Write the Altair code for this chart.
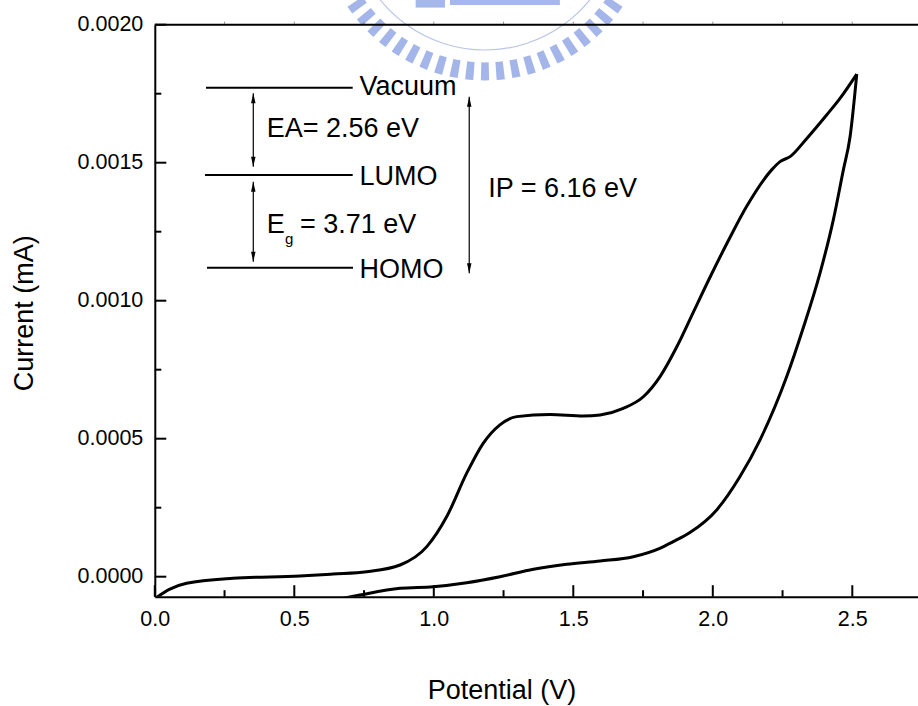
import altair as alt
import numpy as np
import pandas as pd

# ---- cyclic voltammogram (potential in V, current in mA) ----
fwd_v = [0.000, 0.052, 0.114, 0.280, 0.520, 0.639, 0.759, 0.879, 0.975, 1.046,
         1.118, 1.177, 1.237, 1.297, 1.416, 1.536, 1.596, 1.679, 1.751, 1.811,
         1.871, 1.930, 1.990, 2.062, 2.121, 2.211, 2.241, 2.277, 2.337, 2.408,
         2.456, 2.516]
fwd_i = [-0.0000800, -0.0000457, -0.0000239, -0.0000058, 0.0000025, 0.0000098,
         0.0000181, 0.0000424, 0.000109, 0.000217, 0.000375, 0.000483, 0.000550,
         0.000580, 0.000588, 0.000582, 0.000586, 0.000610, 0.000652, 0.000725,
         0.000833, 0.000958, 0.001085, 0.001230, 0.001341, 0.001474, 0.001504,
         0.001522, 0.001588, 0.001673, 0.001733, 0.001821]
# return scan, listed from the low-potential end up to the switching point
rev_v = [0.628, 0.735, 0.879, 0.998, 1.118, 1.237, 1.357, 1.476, 1.596, 1.715,
         1.810, 1.858, 1.918, 2.014, 2.097, 2.169, 2.265, 2.324,
         2.384, 2.432, 2.468, 2.492, 2.516]
rev_i = [-0.0000880, -0.0000663, -0.0000420, -0.0000362, -0.0000217, 0.0,
         0.0000268, 0.0000449, 0.0000569, 0.0000725, 0.000103,
         0.000127, 0.000160, 0.000242, 0.000362, 0.000495, 0.000725,
         0.000901, 0.001099, 0.001293, 0.001474, 0.001594, 0.001821]

# ---- axes ----
X_MAX = 2.7355
Y_MIN, Y_MAX = -0.0000725, 0.0020
x_major = [0.0, 0.5, 1.0, 1.5, 2.0, 2.5]
x_minor = [0.25, 0.75, 1.25, 1.75, 2.25]
y_major = [0.0, 0.0005, 0.0010, 0.0015, 0.0020]
y_minor = [0.00025, 0.00075, 0.00125, 0.00175]
top_ticks = [0.25, 0.5, 0.75, 1.0, 1.25, 1.5, 1.75, 2.0, 2.25, 2.5]

# ---- energy-level inset ----
level_names = ["Vacuum", "LUMO", "HOMO"]
level_i = [0.0017720, 0.0014554, 0.0011196]
level_v0 = [0.1835, 0.1799, 0.1871]
level_v1 = [0.7093, 0.7093, 0.7104]
level_label_v = [0.7337, 0.7337, 0.7337]
level_label_i = [0.0017453, 0.0014192, 0.0010822]

arrow_v = [0.3530, 0.3530, 1.1270]
arrow_top = [0.0017514, 0.0014313, 0.0017390]
arrow_bot = [0.0014856, 0.0011414, 0.0010990]

note_text = ["EA= 2.56 eV", "E", "= 3.71 eV", "IP = 6.16 eV"]
note_v = [0.4010, 0.4010, 0.5204, 1.1950]
note_i = [0.0015931, 0.0012453, 0.0012453, 0.0013768]
sub_text = ["g"]
sub_v = [0.4667]
sub_i = [0.0012054]

# ---- seal in the page header ----
seal_v, seal_i = 1.1835, 0.002396
seal_color = "#8098e0"

FONT = "Liberation Sans"
W, H = 763.2, 572

xs = alt.Scale(domain=[0, X_MAX], nice=False, zero=False)
ys = alt.Scale(domain=[Y_MIN, Y_MAX], nice=False, zero=False)


def X(field, **kw):
    return alt.X(field, type="quantitative", scale=xs, axis=kw.pop("axis", None), **kw)


def Y(field, **kw):
    return alt.Y(field, type="quantitative", scale=ys, axis=kw.pop("axis", None), **kw)


cv = pd.concat([
    pd.DataFrame({"v": fwd_v, "i": fwd_i, "scan": "forward", "k": range(len(fwd_v))}),
    pd.DataFrame({"v": rev_v, "i": rev_i, "scan": "reverse", "k": range(len(rev_v))}),
])

x_axis = alt.Axis(
    orient="bottom", values=x_major, format=".1f", grid=False, ticks=False, tickSize=0,
    labelFont=FONT, labelFontSize=21.5, labelColor="black", labelPadding=12,
    labelFlush=False, labelOverlap=False,
    domainColor="black", domainWidth=2, zindex=1,
    title="Potential (V)", titleFont=FONT, titleFontSize=27, titleFontWeight="normal",
    titleColor="black", titleX=346.7, titleY=101.5, titleAlign="center",
    titleBaseline="alphabetic",
)
y_axis = alt.Axis(
    orient="left", values=y_major, format=".4f", grid=False, ticks=False, tickSize=0,
    labelFont=FONT, labelFontSize=21.5, labelColor="black", labelPadding=12,
    labelFlush=False, labelOverlap=False,
    domainColor="black", domainWidth=2, zindex=1,
    title="Current (mA)", titleFont=FONT, titleFontSize=27, titleFontWeight="normal",
    titleColor="black", titleAngle=270, titleX=-122.5, titleY=288,
    titleAlign="center", titleBaseline="alphabetic",
)

# seal: gear teeth, thin inner ring and banner blocks
tooth_mid = np.pi + np.arange(-12, 13) * 0.096
teeth = pd.DataFrame({
    "v": seal_v, "i": seal_i,
    "t0": tooth_mid - 0.025, "t1": tooth_mid + 0.025,
    "r0": 147.0, "r1": 165.0,
})
ring = pd.DataFrame({"v": [seal_v], "i": [seal_i], "t0": [np.pi - 1.25],
                     "t1": [np.pi + 1.25], "r0": [134.0], "r1": [135.2]})
banner = pd.DataFrame({"v0": [1.058, 0.935], "v1": [1.452, 1.040],
                       "i0": [0.0020895, 0.0020895], "i1": [0.0020714, 0.0020620]})


def arcs(df, color, opacity):
    return alt.Chart(df).mark_arc(color=color, opacity=opacity).encode(
        x=X("v"), y=Y("i"),
        theta=alt.Theta("t0:Q", scale=None), theta2="t1:Q",
        radius=alt.Radius("r0:Q", scale=None), radius2="r1:Q",
    )


seal_teeth = arcs(teeth, seal_color, 0.72)
seal_ring = arcs(ring, "#b3bfe6", 0.9)
seal_banner = alt.Chart(banner).mark_rect(color=seal_color, opacity=0.7).encode(
    x=X("v0"), x2="v1", y=Y("i0"), y2="i1")

curve = alt.Chart(cv).mark_line(
    color="black", strokeWidth=3, interpolate="monotone", clip=True
).encode(
    x=X("v", axis=x_axis), y=Y("i", axis=y_axis),
    detail="scan:N", order="k:Q",
)

# frame line along the top edge with its faint ticks
top_line = alt.Chart(pd.DataFrame({"v": [0.0], "v2": [X_MAX]})).mark_rule(
    color="black", strokeWidth=2
).encode(x=X("v"), x2="v2", y=alt.value(0))
top_tick = alt.Chart(pd.DataFrame({"v": top_ticks})).mark_rule(
    color="#8c8c8c", strokeWidth=1
).encode(x=X("v"), y=alt.value(-1), y2=alt.value(-3))

levels_df = pd.DataFrame({"name": level_names, "i": level_i, "v0": level_v0,
                          "v1": level_v1, "lv": level_label_v, "li": level_label_i})
levels = alt.Chart(levels_df).mark_rule(color="black", strokeWidth=2).encode(
    x=X("v0"), x2="v1", y=Y("i"))
level_labels = alt.Chart(levels_df).mark_text(
    align="left", baseline="alphabetic", font=FONT, fontSize=27, color="black"
).encode(x=X("lv"), y=Y("li"), text="name:N")

arrows_df = pd.DataFrame({"v": arrow_v, "top": arrow_top, "bot": arrow_bot})
shafts = alt.Chart(arrows_df).mark_rule(color="black", strokeWidth=1.2).encode(
    x=X("v"), y=Y("top"), y2="bot")
head_up = alt.Chart(arrows_df).mark_point(
    shape="M0,0L0.45,2L-0.45,2Z", size=100, filled=True, color="black", opacity=1
).encode(x=X("v"), y=Y("top"))
head_down = alt.Chart(arrows_df).mark_point(
    shape="M0,0L0.45,-2L-0.45,-2Z", size=100, filled=True, color="black", opacity=1
).encode(x=X("v"), y=Y("bot"))

notes = alt.Chart(pd.DataFrame({"t": note_text, "v": note_v, "i": note_i})).mark_text(
    align="left", baseline="alphabetic", font=FONT, fontSize=27, color="black"
).encode(x=X("v"), y=Y("i"), text="t:N")
subs = alt.Chart(pd.DataFrame({"t": sub_text, "v": sub_v, "i": sub_i})).mark_text(
    align="left", baseline="alphabetic", font=FONT, fontSize=15, color="black"
).encode(x=X("v"), y=Y("i"), text="t:N")

# inward tick marks on the bottom and left axes
xt_major = alt.Chart(pd.DataFrame({"v": x_major})).mark_rule(color="black", strokeWidth=2).encode(
    x=X("v"), y=alt.value(H), y2=alt.value(H - 11.5))
xt_minor = alt.Chart(pd.DataFrame({"v": x_minor})).mark_rule(color="black", strokeWidth=2).encode(
    x=X("v"), y=alt.value(H), y2=alt.value(H - 6.5))
yt_major = alt.Chart(pd.DataFrame({"i": y_major})).mark_rule(color="black", strokeWidth=2).encode(
    y=Y("i"), x=alt.value(0), x2=alt.value(11.5))
yt_minor = alt.Chart(pd.DataFrame({"i": y_minor})).mark_rule(color="black", strokeWidth=2).encode(
    y=Y("i"), x=alt.value(0), x2=alt.value(6.5))

chart = alt.layer(
    curve, seal_teeth, seal_ring, seal_banner, top_tick, top_line,
    levels, level_labels, shafts, head_up, head_down, notes, subs,
    xt_major, xt_minor, yt_major, yt_minor,
).resolve_axis(
    x="independent", y="independent"
).properties(
    width=W, height=H,
    autosize=alt.AutoSizeParams(type="none"),
    padding={"left": 154.8, "top": 24.7, "right": 0, "bottom": 109.3},
    background="white",
).configure_view(stroke=None)

chart.save("out.html", embed_options={"renderer": "svg", "actions": False})
